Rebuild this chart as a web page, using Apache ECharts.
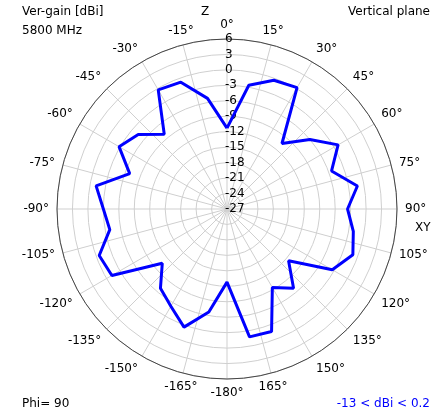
<!DOCTYPE html>
<html><head><meta charset="utf-8">
<script src="https://cdn.jsdelivr.net/npm/echarts@6/dist/echarts.min.js"></script>
<style>html,body{margin:0;padding:0;background:#fff}#c{width:446px;height:412px}</style>
</head><body><div id="c"></div>
<script>
var angles = [0,10,20,30,40,50,60,70,80,90,100,110,120,130,140,150,160,170,180,190,200,210,220,230,240,250,260,270,280,290,300,310,320,330,340,350,360];
var gains = [-11.3,-2.6,-0.4,0.2,-10.4,-6.0,-2.1,-5.4,-1.3,-3.6,-2.1,-1.0,-3.4,-11.4,-6.9,-9.4,-1.7,-1.8,-12.8,-6.7,-2.6,-5.2,-6.9,-10.6,-1.2,-0.6,-3.9,-3.0,-1.2,-6.9,-2.8,-4.5,-8.05,-0.3,-0.8,-5.2,-11.3];
var rMin = -27, rMax = 6, rStep = 3;
var titleLeft = ["Ver-gain [dBi]", "5800 MHz"];
var titleRight = "Vertical plane";
var footLeft = "Phi= 90";
var footRight = "-13 < dBi < 0.2";
var FONT = "DejaVu Sans";
var chart = echarts.init(document.getElementById('c'));
var data = angles.map(function(a,i){return [gains[i], a];});
var F = '12px "DejaVu Sans"';
chart.setOption({
  animation:false,
  textStyle:{fontFamily:FONT},
  polar:{center:[227,209], radius:170},
  angleAxis:{type:'value', min:0, max:360, interval:15, startAngle:90, clockwise:true,
    axisLine:{show:true, lineStyle:{color:'#444', width:1}},
    axisTick:{show:false},
    axisLabel:{show:true, margin:8, color:'#000', fontSize:12, fontFamily:FONT,
      formatter:function(v){ if(v>=360) return ''; return (v>=180? v-360 : v) + '°'; }},
    splitLine:{show:true, lineStyle:{color:'#cfcfcf', width:1}}
  },
  radiusAxis:{type:'value', min:rMin, max:rMax, interval:rStep,
    axisLine:{show:false}, axisTick:{show:false},
    axisLabel:{show:true, color:'#000', fontSize:12, fontFamily:FONT, margin:2, align:'left', verticalAlign:'middle'},
    splitLine:{show:true, lineStyle:{color:'#cfcfcf', width:1}}
  },
  series:[{type:'line', coordinateSystem:'polar', data:data, symbol:'none',
    lineStyle:{color:'#0000ff', width:3}, z:5}],
  graphic:[
    {type:'text', left:22, top:6, style:{text:titleLeft[0], font:F, fill:'#000'}},
    {type:'text', left:22, top:25, style:{text:titleLeft[1], font:F, fill:'#000'}},
    {type:'text', right:16, top:6, style:{text:titleRight, font:F, fill:'#000'}},
    {type:'text', left:201, top:6, style:{text:'Z', font:F, fill:'#000'}},
    {type:'text', left:415, top:222, style:{text:'XY', font:F, fill:'#000'}},
    {type:'text', left:22, top:398, style:{text:footLeft, font:F, fill:'#000'}},
    {type:'text', right:16, top:398, style:{text:footRight, font:F, fill:'#0000ff'}}
  ]
});
</script></body></html>
